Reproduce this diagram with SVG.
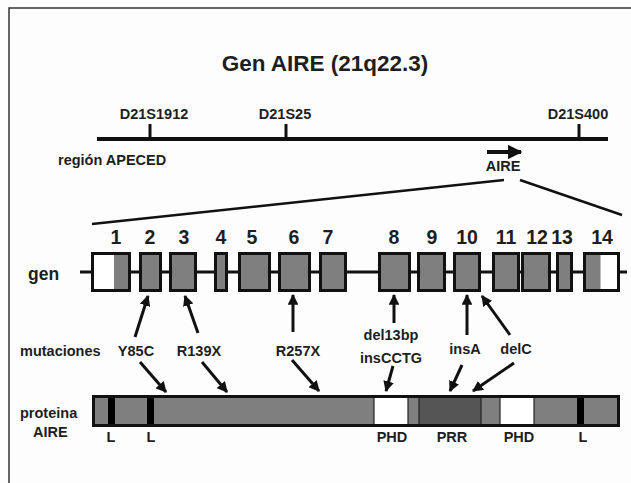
<svg xmlns="http://www.w3.org/2000/svg" width="631" height="483" viewBox="0 0 631 483">
<defs>
<style>
text{font-family:"Liberation Sans",Arial,sans-serif;font-weight:bold;fill:#1e1e1e}
.t{font-size:22.5px;text-anchor:middle}
.m{font-size:14.5px;text-anchor:middle}
.n{font-size:19.5px;text-anchor:middle}
.lab{font-size:14.5px}
.ex{fill:#7f7f7f;stroke:#111;stroke-width:3}
.ln{stroke:#111;fill:none}
.ar{stroke:#111;stroke-width:3;fill:none;marker-end:url(#ah)}
.seg{stroke:#222;stroke-width:1.2}
</style>
<marker id="ah" viewBox="0 0 10 10" refX="9" refY="5" markerWidth="3.6" markerHeight="3.6" orient="auto" markerUnits="strokeWidth">
<path d="M0,0 L10,5 L0,10 z" fill="#111"/>
</marker>
</defs>
<rect width="631" height="483" fill="#fdfdfd"/>
<path d="M9,483 V8 H631" fill="none" stroke="#333" stroke-width="1.5"/>

<g id="title"><text class="t" x="325" y="71">Gen AIRE (21q22.3)</text></g>

<g id="chromosome">
<line class="ln" x1="97" y1="139" x2="608" y2="139" stroke-width="4"/>
<line class="ln" x1="150" y1="124" x2="150" y2="139" stroke-width="3"/>
<line class="ln" x1="286" y1="124" x2="286" y2="139" stroke-width="3"/>
<line class="ln" x1="579" y1="124" x2="579" y2="139" stroke-width="3"/>
<text class="m" x="154" y="119">D21S1912</text>
<text class="m" x="285" y="119">D21S25</text>
<text class="m" x="578" y="119">D21S400</text>
<text class="lab" x="58" y="165">región APECED</text>
<line x1="487" y1="152" x2="521" y2="152" stroke="#111" stroke-width="4" marker-end="url(#ah)"/>
<text class="m" x="503" y="171">AIRE</text>
</g>

<g id="zoom-lines">
<line class="ln" x1="92" y1="224" x2="504" y2="180" stroke-width="2.5"/>
<line class="ln" x1="520" y1="180" x2="622" y2="215" stroke-width="2.5"/>
</g>

<g id="gene">
<text x="28" y="280" style="font-size:17.5px">gen</text>
<line class="ln" x1="80" y1="272" x2="627" y2="272" stroke-width="3"/>
<g id="exon1"><rect x="92.5" y="253.5" width="37" height="37" fill="#fff"/><rect x="114" y="253.5" width="15.5" height="37" fill="#7f7f7f"/><rect x="92.5" y="253.5" width="37" height="37" fill="none" stroke="#111" stroke-width="3"/><text class="n" x="116" y="244">1</text></g>
<g id="exon2"><rect class="ex" x="140.5" y="253.5" width="20" height="37"/><text class="n" x="150" y="244">2</text></g>
<g id="exon3"><rect class="ex" x="170.5" y="253.5" width="25" height="37"/><text class="n" x="184" y="244">3</text></g>
<g id="exon4"><rect class="ex" x="215.5" y="253.5" width="11" height="37"/><text class="n" x="221" y="244">4</text></g>
<g id="exon5"><rect class="ex" x="239.5" y="253.5" width="30" height="37"/><text class="n" x="252" y="244">5</text></g>
<g id="exon6"><rect class="ex" x="279.5" y="253.5" width="30" height="37"/><text class="n" x="294" y="244">6</text></g>
<g id="exon7"><rect class="ex" x="320.5" y="253.5" width="25" height="37"/><text class="n" x="328" y="244">7</text></g>
<g id="exon8"><rect class="ex" x="379.5" y="253.5" width="30" height="37"/><text class="n" x="394" y="244">8</text></g>
<g id="exon9"><rect class="ex" x="418.5" y="253.5" width="26" height="37"/><text class="n" x="432" y="244">9</text></g>
<g id="exon10"><rect class="ex" x="454.5" y="253.5" width="25" height="37"/><text class="n" x="467" y="244">10</text></g>
<g id="exon11"><rect class="ex" x="493.5" y="253.5" width="25" height="37"/><text class="n" x="506" y="244">11</text></g>
<g id="exon12"><rect class="ex" x="522.5" y="253.5" width="27" height="37"/><text class="n" x="537" y="244">12</text></g>
<g id="exon13"><rect class="ex" x="557.5" y="253.5" width="14" height="37"/><text class="n" x="562" y="244">13</text></g>
<g id="exon14"><rect x="584.5" y="253.5" width="34" height="37" fill="#fff"/><rect x="584.5" y="253.5" width="16" height="37" fill="#7f7f7f"/><rect x="584.5" y="253.5" width="34" height="37" fill="none" stroke="#111" stroke-width="3"/><text class="n" x="602" y="244">14</text></g>
</g>

<g id="mutations">
<text class="lab" x="20" y="356">mutaciones</text>
<text class="m" x="136" y="356">Y85C</text>
<text class="m" x="199" y="356">R139X</text>
<text class="m" x="298" y="356">R257X</text>
<text class="m" x="391" y="340">del13bp</text>
<text class="m" x="391" y="363">insCCTG</text>
<text class="m" x="465" y="354">insA</text>
<text class="m" x="516" y="354">delC</text>
</g>

<g id="connectors">
<line class="ar" x1="135" y1="337" x2="148" y2="296"/>
<line class="ar" x1="198" y1="333" x2="185" y2="296"/>
<line class="ar" x1="293" y1="332" x2="293" y2="295"/>
<line class="ar" x1="394" y1="323" x2="394" y2="295"/>
<line class="ar" x1="467" y1="335" x2="467" y2="295"/>
<line class="ar" x1="510" y1="335" x2="482" y2="296"/>
<line class="ar" x1="140" y1="362" x2="166" y2="392"/>
<line class="ar" x1="202" y1="362" x2="227" y2="392"/>
<line class="ar" x1="292" y1="360" x2="319" y2="391"/>
<line class="ar" x1="393" y1="366" x2="386" y2="391"/>
<line class="ar" x1="462" y1="365" x2="450" y2="391"/>
<line class="ar" x1="514" y1="363" x2="473" y2="391"/>
</g>

<g id="protein">
<text class="lab" x="20" y="418">proteina</text>
<text class="lab" x="33" y="437">AIRE</text>
<rect x="92" y="395" width="528" height="32" fill="#7f7f7f"/>
<rect x="108" y="395" width="7" height="32" fill="#000"/>
<rect x="147" y="395" width="7" height="32" fill="#000"/>
<rect class="seg" x="374" y="396.5" width="34" height="29" fill="#fff"/>
<rect class="seg" x="419" y="396.5" width="62" height="29" fill="#555"/>
<rect class="seg" x="500" y="396.5" width="34" height="29" fill="#fff"/>
<rect x="577" y="395" width="7" height="32" fill="#000"/>
<rect x="93.5" y="396.5" width="525" height="29" fill="none" stroke="#111" stroke-width="3"/>
<text class="m" x="111" y="442">L</text>
<text class="m" x="151" y="442">L</text>
<text class="m" x="392" y="442">PHD</text>
<text class="m" x="452" y="442">PRR</text>
<text class="m" x="519" y="442">PHD</text>
<text class="m" x="583" y="442">L</text>
</g>
</svg>
